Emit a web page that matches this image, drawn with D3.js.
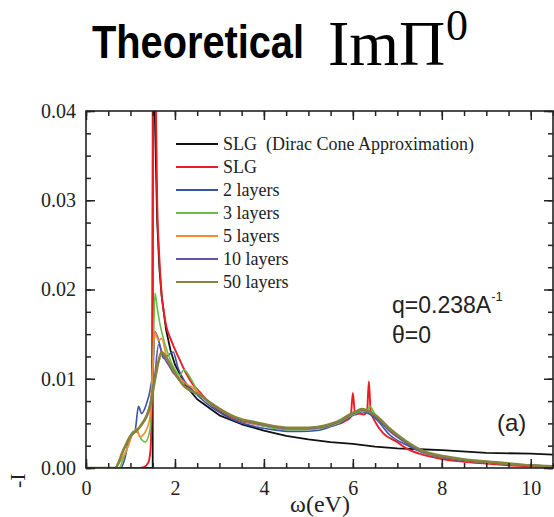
<!DOCTYPE html>
<html>
<head>
<meta charset="utf-8">
<script src="https://cdn.jsdelivr.net/npm/d3@7"></script>
<style>
  body { margin: 0; background: #fff; }
  svg { display: block; }
  .axis path, .axis line { stroke: #222; stroke-width: 1.5; }
</style>
</head>
<body>
<div id="chart"></div>
<script>
'use strict';
// -- data: [omega (eV), value] --
var seriesNames = ['SLG  (Dirac Cone Approximation)', 'SLG', '2 layers', '3 layers', '5 layers', '10 layers', '50 layers'];
var seriesColors = ['#111111', '#ec1c24', '#3953a4', '#6abd45', '#f58a33', '#6952a3', '#84843a'];
var seriesWidths = [1.8, 1.9, 1.6, 1.6, 1.6, 1.6, 2.6];

var diracCone = [[0,0],[1.5,0],[1.5,0.06],[1.52,0.055],[1.55,0.039],[1.6,0.0277],[1.65,0.0224],[1.7,0.0193],[1.8,0.0155],[1.9,0.0132],
  [2.0,0.0116],[2.25,0.0092],[2.5,0.0077],[3,0.0059],[3.5,0.0049],[4,0.0042],[4.5,0.0036],[5,0.0032],[5.5,0.0029],[6,0.0027],
  [6.5,0.0024],[7,0.0022],[7.5,0.0021],[8,0.0020],[9,0.0017],[10,0.0016],[10.5,0.0015]];

var slg = [[0,0],[1.2,0],[1.3,0.0001],[1.4,0.0006],[1.45,0.002],[1.48,0.008],[1.5,0.03],[1.52,0.05],[1.56,0.045],[1.6,0.030],
  [1.65,0.0235],[1.7,0.0195],[1.75,0.0175],[1.8,0.016],[1.9,0.0145],[2.0,0.0133],[2.1,0.0122],[2.25,0.0106],[2.4,0.0094],
  [2.56,0.0085],[2.8,0.0072],[3.08,0.0061],[3.4,0.0054],[3.83,0.0049],[4.2,0.0046],[4.58,0.0044],[5,0.0044],[5.5,0.0047],
  [5.8,0.0052],[5.95,0.0057],[6.0,0.0084],[6.05,0.0060],[6.15,0.0061],[6.25,0.0060],[6.32,0.0064],[6.36,0.0097],[6.4,0.0064],
  [6.5,0.0052],[6.68,0.0039],[7.0,0.0029],[7.2,0.0022],[7.5,0.0016],[8,0.0010],[8.5,0.0007],[9,0.0005],[9.5,0.0003],[10,0.0002],[10.5,0.0001]];

var layers2 = [[0,0],[0.78,0],[0.88,0.0012],[0.95,0.0029],[1.03,0.0039],[1.1,0.0041],[1.18,0.0069],[1.25,0.0061],[1.36,0.0072],
  [1.44,0.0087],[1.51,0.0114],[1.55,0.0153],[1.6,0.0148],[1.66,0.0138],[1.74,0.0123],[1.81,0.0125],[1.96,0.0130],[2.07,0.0112],
  [2.22,0.0097],[2.4,0.0087],[2.56,0.0079],[2.8,0.0069],[3.08,0.0060],[3.4,0.0052],[3.83,0.0046],[4.2,0.0043],[4.58,0.0041],
  [4.81,0.0041],[5.2,0.0042],[5.48,0.0046],[5.7,0.0050],[5.93,0.0057],[6.1,0.0061],[6.2,0.0063],[6.35,0.0061],[6.54,0.0054],
  [6.83,0.0037],[7.2,0.0026],[7.58,0.0017],[8.18,0.0010],[8.8,0.0007],[9.3,0.0005],[10,0.0003],[10.5,0.0002]];

var layers3 = [[0,0],[0.74,0],[0.85,0.0012],[0.99,0.0031],[1.06,0.0041],[1.15,0.0040],[1.25,0.0032],[1.33,0.0029],[1.44,0.0043],
  [1.48,0.008],[1.51,0.0125],[1.55,0.0196],[1.6,0.0180],[1.66,0.0162],[1.78,0.0138],[1.96,0.0114],[2.11,0.0104],[2.2,0.0110],
  [2.37,0.0099],[2.52,0.0085],[2.8,0.0072],[3.08,0.0063],[3.4,0.0055],[3.83,0.0049],[4.2,0.0045],[4.58,0.0043],[4.81,0.0043],
  [5.2,0.0044],[5.48,0.0047],[5.7,0.0051],[5.93,0.0058],[6.1,0.0062],[6.2,0.0064],[6.3,0.0063],[6.38,0.0069],[6.5,0.0060],
  [6.83,0.0042],[7.2,0.0028],[7.58,0.0018],[8.18,0.0011],[8.8,0.0007],[9.3,0.0005],[10,0.0003],[10.5,0.0002]];

var layers5 = [[0,0],[0.65,0],[0.8,0.0010],[0.91,0.0020],[1.06,0.0039],[1.14,0.0044],[1.21,0.0035],[1.36,0.0043],[1.44,0.0058],
  [1.49,0.0105],[1.55,0.0152],[1.63,0.0143],[1.70,0.0145],[1.81,0.0125],[1.96,0.0106],[2.07,0.0103],[2.25,0.0094],[2.37,0.0091],
  [2.56,0.0083],[2.8,0.0072],[3.08,0.0063],[3.4,0.0055],[3.83,0.0050],[4.2,0.0046],[4.58,0.0044],[4.81,0.0044],[5.2,0.0045],
  [5.48,0.0048],[5.7,0.0052],[5.93,0.0059],[6.1,0.0063],[6.2,0.0065],[6.35,0.0063],[6.54,0.0056],[6.83,0.0042],[7.2,0.0029],
  [7.58,0.0018],[8.18,0.0011],[8.8,0.0007],[9.3,0.0005],[10,0.0003],[10.5,0.0002]];

var layers10 = [[0,0],[0.65,0],[0.84,0.0020],[0.99,0.0035],[1.21,0.0046],[1.44,0.0072],[1.55,0.0105],[1.63,0.0138],[1.74,0.0125],
  [1.9,0.0112],[2.1,0.0098],[2.3,0.0088],[2.56,0.0082],[2.8,0.0072],[3.08,0.0063],[3.4,0.0055],[3.83,0.0050],[4.2,0.0046],
  [4.58,0.0044],[4.81,0.0044],[5.2,0.0045],[5.48,0.0048],[5.7,0.0052],[5.93,0.0059],[6.1,0.0063],[6.2,0.0065],[6.35,0.0063],
  [6.54,0.0056],[6.83,0.0041],[7.2,0.0028],[7.58,0.0018],[8.18,0.0011],[8.8,0.0007],[9.3,0.0005],[10,0.0003],[10.5,0.0002]];

var layers50 = [[0,0],[0.65,0],[0.84,0.0020],[0.99,0.0035],[1.21,0.0046],[1.44,0.0069],[1.55,0.0099],[1.66,0.0125],[1.70,0.0130],
  [1.8,0.0124],[1.96,0.0110],[2.22,0.0091],[2.34,0.0087],[2.56,0.0082],[2.8,0.0073],[3.08,0.0064],[3.4,0.0056],[3.83,0.0051],
  [4.2,0.0047],[4.58,0.0045],[4.81,0.0045],[5.2,0.0046],[5.48,0.0049],[5.7,0.0053],[5.93,0.0060],[6.1,0.0064],[6.2,0.0066],
  [6.35,0.0064],[6.54,0.0058],[6.83,0.0044],[7.2,0.0030],[7.58,0.0019],[8.18,0.0012],[8.8,0.0008],[9.3,0.0006],[10,0.0003],[10.5,0.0002]];

var seriesData = [diracCone, slg, layers2, layers3, layers5, layers10, layers50];

var xMajor = [0, 2, 4, 6, 8, 10];
var yMajor = [0, 0.01, 0.02, 0.03, 0.04];
var yLabels = ['0.00', '0.01', '0.02', '0.03', '0.04'];

// -- layout --
var W = 554, H = 517;
var pLeft = 86, pTop = 111, pRight = 553, pBottom = 468;
var serif = '"Liberation Serif", "DejaVu Serif", serif';
var sans = '"Liberation Sans", Arial, sans-serif';

var svg = d3.select('#chart').append('svg').attr('width', W).attr('height', H);

var x = d3.scaleLinear().domain([0, 10.5]).range([pLeft, pRight]);
var y = d3.scaleLinear().domain([0, 0.04]).range([pBottom, pTop]);

svg.append('clipPath').attr('id', 'plotclip').append('rect')
  .attr('x', pLeft).attr('y', pTop).attr('width', pRight - pLeft).attr('height', pBottom - pTop);

// title
var title = svg.append('g');
title.append('text').attr('x', 92).attr('y', 58)
  .attr('textLength', 212).attr('lengthAdjust', 'spacingAndGlyphs')
  .style('font-family', sans).style('font-weight', 'bold').style('font-size', '46px')
  .text('Theoretical');
title.append('text').attr('x', 328).attr('y', 65)
  .style('font-family', serif).style('font-size', '64px')
  .text('ImΠ');
title.append('text').attr('x', 446).attr('y', 40)
  .style('font-family', serif).style('font-size', '44px')
  .text('0');

// curves
var line = d3.line().x(function (d) { return x(d[0]); }).y(function (d) { return y(d[1]); });
var plot = svg.append('g').attr('clip-path', 'url(#plotclip)');
seriesData.forEach(function (s, i) {
  plot.append('path')
    .datum(s)
    .attr('d', line.curve(i === 0 ? d3.curveLinear : d3.curveMonotoneX))
    .attr('fill', 'none')
    .attr('stroke', seriesColors[i])
    .attr('stroke-width', seriesWidths[i])
    .attr('stroke-linejoin', 'round');
});

// axes (ticks pointing inward on all four sides)
var xMinor = d3.range(0, 10.51, 0.5);
var yMinor = d3.range(0, 0.04001, 0.0025);

function noLabels(a) { return a.tickFormat(''); }

svg.append('g').attr('class', 'axis').attr('transform', 'translate(0,' + pBottom + ')')
  .call(noLabels(d3.axisBottom(x).tickValues(xMinor).tickSizeInner(-5).tickSizeOuter(0)));
svg.append('g').attr('class', 'axis').attr('transform', 'translate(0,' + pBottom + ')')
  .call(d3.axisBottom(x).tickValues(xMajor).tickSizeInner(-9).tickSizeOuter(0).tickPadding(13).tickFormat(d3.format('d')));
svg.append('g').attr('class', 'axis').attr('transform', 'translate(0,' + pTop + ')')
  .call(noLabels(d3.axisTop(x).tickValues(xMinor).tickSizeInner(-5).tickSizeOuter(0)));
svg.append('g').attr('class', 'axis').attr('transform', 'translate(0,' + pTop + ')')
  .call(noLabels(d3.axisTop(x).tickValues(xMajor).tickSizeInner(-9).tickSizeOuter(0)));

svg.append('g').attr('class', 'axis').attr('transform', 'translate(' + pLeft + ',0)')
  .call(noLabels(d3.axisLeft(y).tickValues(yMinor).tickSizeInner(-5).tickSizeOuter(0)));
svg.append('g').attr('class', 'axis').attr('transform', 'translate(' + pLeft + ',0)')
  .call(d3.axisLeft(y).tickValues(yMajor).tickSizeInner(-9).tickSizeOuter(0).tickPadding(10)
    .tickFormat(function (d, i) { return yLabels[i]; }));
svg.append('g').attr('class', 'axis').attr('transform', 'translate(' + pRight + ',0)')
  .call(noLabels(d3.axisRight(y).tickValues(yMinor).tickSizeInner(-5).tickSizeOuter(0)));
svg.append('g').attr('class', 'axis').attr('transform', 'translate(' + pRight + ',0)')
  .call(noLabels(d3.axisRight(y).tickValues(yMajor).tickSizeInner(-9).tickSizeOuter(0)));

svg.selectAll('.axis .domain').remove();
svg.selectAll('.axis').attr('font-family', null).attr('font-size', null);
svg.selectAll('.axis .tick text')
  .style('font-family', serif).style('font-size', '20px').style('fill', '#222');

svg.append('rect').attr('x', pLeft).attr('y', pTop).attr('width', pRight - pLeft).attr('height', pBottom - pTop)
  .attr('fill', 'none').attr('stroke', '#222').attr('stroke-width', 1.6);

// axis titles
svg.append('text').attr('x', 320).attr('y', 512).attr('text-anchor', 'middle')
  .style('font-family', serif).style('font-size', '24px').style('fill', '#222')
  .text('ω(eV)');
svg.append('text').attr('transform', 'translate(25,488) rotate(-90)')
  .style('font-family', serif).style('font-size', '22px').style('fill', '#222')
  .text('-I');

// legend
var legend = svg.append('g');
seriesNames.forEach(function (n, i) {
  var ly = 144 + i * 23;
  legend.append('line').attr('x1', 176).attr('x2', 218).attr('y1', ly).attr('y2', ly)
    .attr('stroke', seriesColors[i]).attr('stroke-width', 1.8);
  legend.append('text').attr('x', 223).attr('y', ly + 6)
    .style('font-family', serif).style('font-size', '18px')
    .style('white-space', 'pre').style('fill', '#222')
    .text(n);
});

// annotations
var q = svg.append('text').attr('x', 392).attr('y', 313)
  .style('font-family', sans).style('font-size', '23px').style('fill', '#222');
q.append('tspan').text('q=0.238A');
q.append('tspan').attr('dy', -12).style('font-size', '13px').text('-1');
svg.append('text').attr('x', 392).attr('y', 343)
  .style('font-family', sans).style('font-size', '23px').style('fill', '#222').text('θ=0');
svg.append('text').attr('x', 497).attr('y', 431)
  .style('font-family', sans).style('font-size', '24px').style('fill', '#222').text('(a)');
</script>
</body>
</html>
